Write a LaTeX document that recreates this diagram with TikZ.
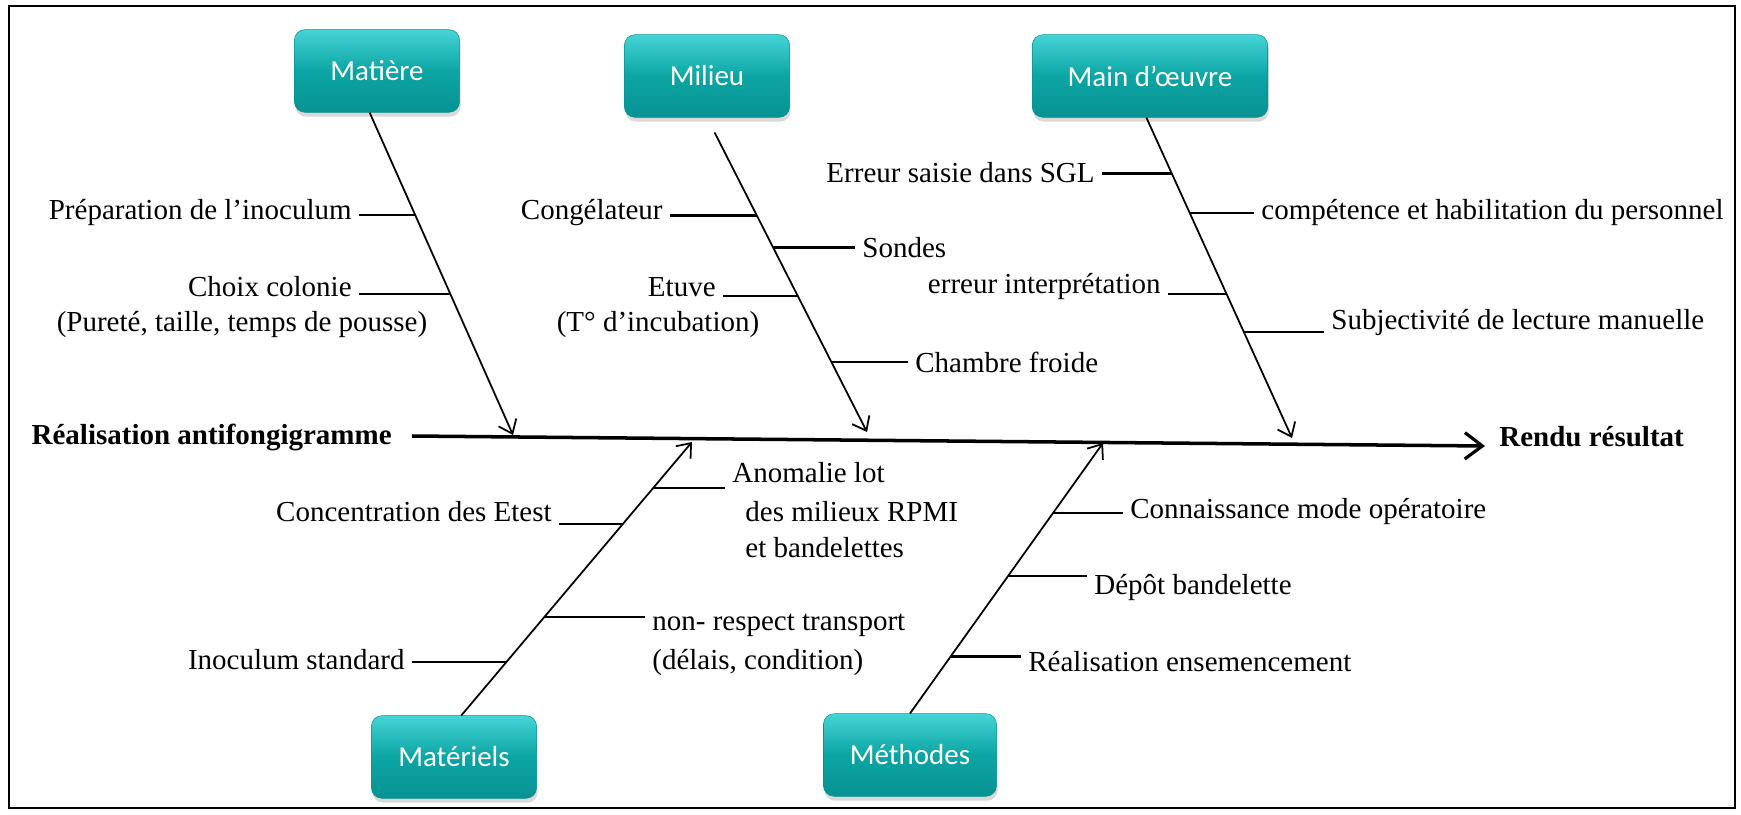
\documentclass[tikz,border=0pt]{standalone}
\usepackage{fontspec}
\setmainfont{Liberation Serif}
\newfontfamily\boxfont{Carlito}
\usepackage{tikz}
\usetikzlibrary{arrows.meta,shadows,calc}
\definecolor{tealtop}{RGB}{70,212,214}
\definecolor{tealmid}{RGB}{12,165,164}
\definecolor{tealbot}{RGB}{8,146,146}
\tikzset{
	cause/.style={rounded corners=6pt, minimum width=94pt, minimum height=47pt, inner xsep=15pt,
		top color=tealtop, bottom color=tealbot, middle color=tealmid, draw=tealbot, line width=0.3pt,
		drop shadow={opacity=0.3, shadow xshift=0.6pt, shadow yshift=-2.5pt},
		font=\boxfont\fontsize{16.5}{20}\selectfont, text=white},
	lbl/.style={inner xsep=4pt, inner ysep=0pt, font=\fontsize{16.5}{20}\selectfont},
	head/.style={inner sep=0pt, font=\fontsize{16.5}{20}\selectfont\bfseries},
	rib/.style={line width=1pt, ->},
	bone/.style={line width=1.4pt},
	spine/.style={line width=2pt, -{Straight Barb[length=10pt,width=15pt,line width=1.8pt]}}
}

\begin{document}
\begin{tikzpicture}[>={Straight Barb[length=7pt,width=11pt]}, x=0.2mm, y=-0.2mm]
		\useasboundingbox (0,0) rectangle (1741,815);
		\draw[line width=1.1pt] (9,6) rectangle (1735,808);
		
		\node[cause] (matiere) at (377,71) {Matière};
		\node[cause] (milieu) at (707,76) {Milieu};
		\node[cause, minimum width=134pt] (main) at (1150,76) {Main d’œuvre};
		\node[cause] (materiels) at (454,757) {Matériels};
		\node[cause] (methodes) at (910,755) {Méthodes};
		
		\coordinate (s0) at (412,436); \coordinate (s1) at (1485,446);
		\node[head, anchor=east] (debut) at (392,437) {Réalisation antifongigramme};
		\node[head, anchor=west] (fin) at (1499,437) {Rendu résultat};
		\draw[spine] (s0) -- (s1);
		
		\coordinate (tmat) at (513,435); \coordinate (tmil) at (867,432); \coordinate (tmain) at (1292,438);
		\coordinate (tmatl) at (692,442); \coordinate (tmeth) at (1103,443);
		\draw[rib] (matiere.260) -- (tmat); \draw[rib, shorten <=9.5pt] (milieu.south) -- (tmil);
		\draw[rib] (main.265) -- (tmain);
		\draw[rib] (materiels.80) -- (tmatl); \draw[rib] (methodes.north) -- (tmeth);
		
		\path (matiere.260) -- (tmat) coordinate[pos=.317] (m1) coordinate[pos=.562] (m2);
		\path (milieu.south) -- (tmil) coordinate[pos=.311] (e1) coordinate[pos=.413] (e2)
			coordinate[pos=.568] (e3) coordinate[pos=.778] (e4);
		\path (main.265) -- (tmain) coordinate[pos=.174] (o1) coordinate[pos=.298] (o2)
			coordinate[pos=.551] (o3) coordinate[pos=.669] (o4);
		\path (materiels.80) -- (tmatl) coordinate[pos=.832] (a1) coordinate[pos=.700] (a2)
			coordinate[pos=.361] (a3) coordinate[pos=.196] (a4);
		\path (methodes.north) -- (tmeth) coordinate[pos=.741] (d1) coordinate[pos=.509] (d2)
			coordinate[pos=.210] (d3);
		
		\node[lbl, anchor=east] (prep) at (359,213) {Préparation de l’inoculum};
		\node[lbl, anchor=east] (choix) at (359,287) {Choix colonie};
		\node[lbl] (purete) at (242,325) {(Pureté, taille, temps de pousse)};
		\draw[bone] (m1) -- (m1 -| prep.east); \draw[bone] (m2) -- (m2 -| choix.east);
		
		\node[lbl, anchor=east] (congel) at (670,213) {Congélateur};
		\node[lbl, anchor=west] (sondes) at (855,248) {Sondes};
		\node[lbl, anchor=east] (etuve) at (723,287) {Etuve};
		\node[lbl] (incub) at (658,325) {(T° d’incubation)};
		\node[lbl, anchor=west] (froide) at (908,362) {Chambre froide};
		\draw[bone] (e1) -- (e1 -| congel.east); \draw[bone] (e2) -- (e2 -| sondes.west);
		\draw[bone] (e3) -- (e3 -| etuve.east); \draw[bone] (e4) -- (e4 -| froide.west);
		
		\node[lbl, anchor=east] (saisie) at (1102,173) {Erreur saisie dans SGL};
		\node[lbl, anchor=west] (compet) at (1254,213) {compétence et habilitation du personnel};
		\node[lbl, anchor=east] (interp) at (1168,287) {erreur interprétation};
		\node[lbl, anchor=west] (subj) at (1324,323) {Subjectivité de lecture manuelle};
		\draw[bone] (o1) -- (o1 -| saisie.east); \draw[bone] (o2) -- (o2 -| compet.west);
		\draw[bone] (o3) -- (o3 -| interp.east); \draw[bone] (o4) -- (o4 -| subj.west);
		
		\node[lbl, anchor=west] (anomalie) at (725,473) {Anomalie lot};
		\node[lbl, anchor=west] (rpmi) at (738,512) {des milieux RPMI};
		\node[lbl, anchor=west] (bandes) at (738,548) {et bandelettes};
		\node[lbl, anchor=east] (etest) at (559,512) {Concentration des Etest};
		\node[lbl, anchor=west] (transport) at (645,625) {non- respect transport};
		\node[lbl, anchor=west] (delais) at (645,662) {(délais, condition)};
		\node[lbl, anchor=east] (standard) at (412,660) {Inoculum standard};
		\draw[bone] (a1) -- (a1 -| anomalie.west); \draw[bone] (a2) -- (a2 -| etest.east);
		\draw[bone] (a3) -- (a3 -| transport.west); \draw[bone] (a4) -- (a4 -| standard.east);
		
		\node[lbl, anchor=west] (mode) at (1123,512) {Connaissance mode opératoire};
		\node[lbl, anchor=west] (depot) at (1087,587) {Dépôt bandelette};
		\node[lbl, anchor=west] (ensem) at (1021,662) {Réalisation ensemencement};
		\draw[bone] (d1) -- (d1 -| mode.west); \draw[bone] (d2) -- (d2 -| depot.west);
		\draw[bone] (d3) -- (d3 -| ensem.west);
	\end{tikzpicture}
\end{document}
